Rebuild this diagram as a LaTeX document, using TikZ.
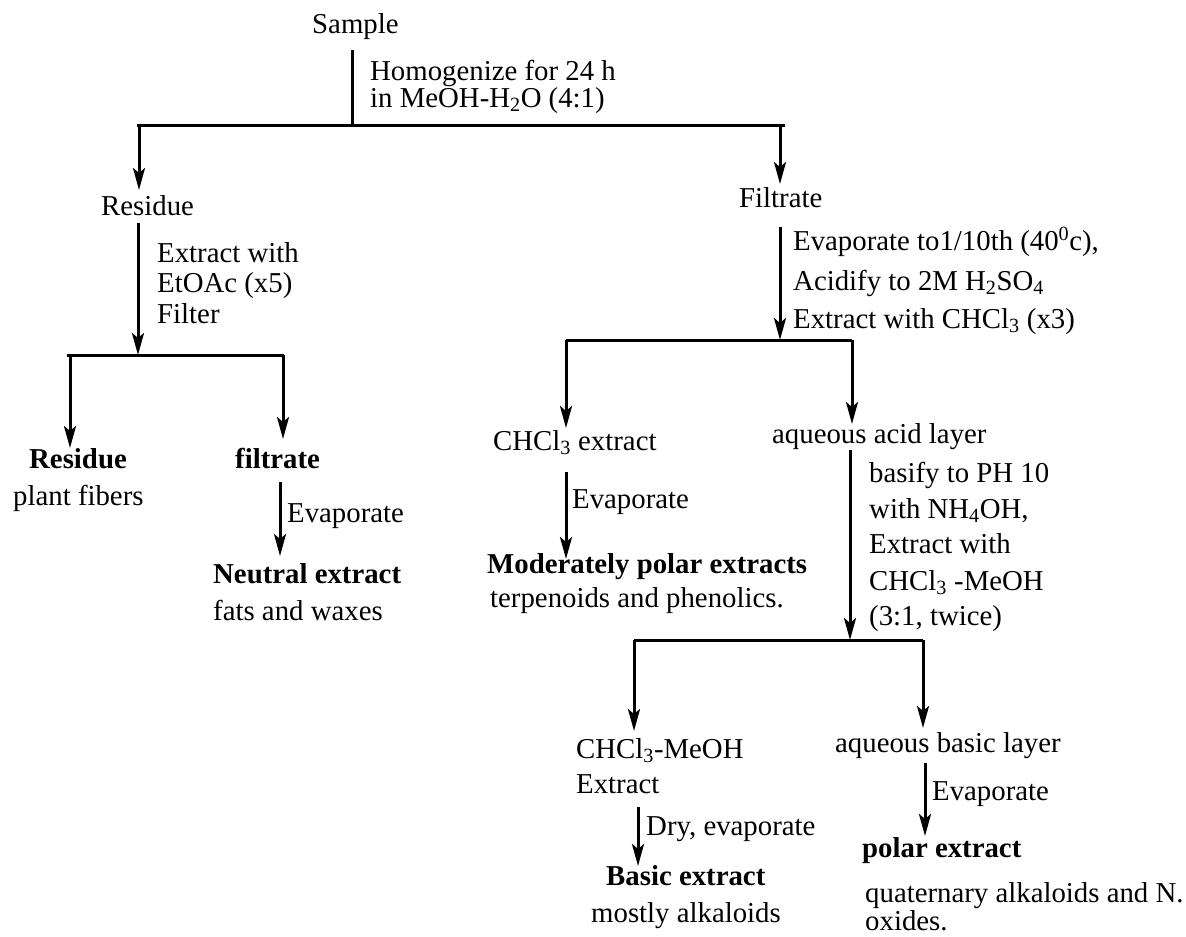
\documentclass[tikz,border=0pt]{standalone}
\usepackage{fontspec}
\setmainfont{Liberation Serif}
\usetikzlibrary{arrows.meta}
\newcommand\diafont{\fontsize{28.8}{30}\selectfont}
\tikzset{
  lbl/.style={anchor=base west, inner sep=0pt, font=\diafont},
  blbl/.style={lbl, font=\diafont\bfseries},
  ln/.style={line width=3pt, line cap=butt},
  arr/.style={ln, -{Stealth[length=22pt, width=12pt, inset=5pt]}}
}
\begin{document}
\begin{tikzpicture}[x=1pt, y=-1pt]
\useasboundingbox (0,0) rectangle (1186,937);

% ---------- texts ----------
\node[lbl] (sample) at (312,33) {Sample};
\node[lbl] (hom1) at (370,80) {Homogenize for 24 h};
\node[lbl] (hom2) at (370,107) {in MeOH-H\textsubscript{2}O (4:1)};

\node[lbl] (residue) at (101,215) {Residue};
\node[lbl] (ext1) at (157,262) {Extract with};
\node[lbl] (ext2) at (157,292) {EtOAc (x5)};
\node[lbl] (ext3) at (157,323) {Filter};

\node[blbl] (resB) at (29,468) {Residue};
\node[lbl] (fibers) at (13,505) {plant fibers};
\node[blbl] (filtB) at (235,468) {filtrate};
\node[lbl] (evap1) at (287,522) {Evaporate};
\node[blbl] (neutral) at (213,583) {Neutral extract};
\node[lbl] (fats) at (213,620) {fats and waxes};

\node[lbl] (filtrate) at (739,207) {Filtrate};
\node[lbl] (ev1) at (793,250) {Evaporate to1/10th (40\textsuperscript{0}c),};
\node[lbl] (ev2) at (793,290) {Acidify to 2M H\textsubscript{2}SO\textsubscript{4}};
\node[lbl] (ev3) at (793,328) {Extract with CHCl\textsubscript{3} (x3)};

\node[lbl] (chcl) at (493,450) {CHCl\textsubscript{3} extract};
\node[lbl] (evap2) at (572,508) {Evaporate};
\node[blbl] (modpol) at (487,573) {Moderately polar extracts};
\node[lbl] (terp) at (490,607) {terpenoids and phenolics.};

\node[lbl] (aqacid) at (772,443) {aqueous acid layer};
\node[lbl] (bas1) at (869,482) {basify to PH 10};
\node[lbl] (bas2) at (869,518) {with NH\textsubscript{4}OH,};
\node[lbl] (bas3) at (869,553) {Extract with};
\node[lbl] (bas4) at (869,590) {CHCl\textsubscript{3} -MeOH};
\node[lbl] (bas5) at (869,625) {(3:1, twice)};

\node[lbl] (chme1) at (576,758) {CHCl\textsubscript{3}-MeOH};
\node[lbl] (chme2) at (576,793) {Extract};
\node[lbl] (dry) at (646,835) {Dry, evaporate};
\node[blbl] (basic) at (606,885) {Basic extract};
\node[lbl] (mostly) at (591,922) {mostly alkaloids};

\node[lbl] (aqbas) at (835,752) {aqueous basic layer};
\node[lbl] (evap3) at (932,800) {Evaporate};
\node[blbl] (polar) at (862,857) {polar extract};
\node[lbl] (quat) at (865,902) {quaternary alkaloids and N.};
\node[lbl] (oxides) at (865,930) {oxides.};

% ---------- junction coordinates ----------
\coordinate (s0) at (352,50);
\coordinate (j0) at (352,125);
\coordinate (h0a) at (137,125);
\coordinate (h0b) at (785,125);
\coordinate (a0l) at (139,125);
\coordinate (t0l) at (139,190);
\coordinate (a0r) at (780,125);
\coordinate (t0r) at (780,184);

\coordinate (s1) at (138,223);
\coordinate (j1) at (138,355);
\coordinate (h1a) at (67,355);
\coordinate (h1b) at (284,355);
\coordinate (a1l) at (70,355);
\coordinate (t1l) at (70,448);
\coordinate (a1r) at (283,355);
\coordinate (t1r) at (283,439);
\coordinate (s1b) at (280,482);
\coordinate (t1b) at (280,556);

\coordinate (s2) at (780,227);
\coordinate (j2) at (780,340);
\coordinate (h2a) at (566,340);
\coordinate (h2b) at (852,340);
\coordinate (t2l) at (566,428);
\coordinate (t2r) at (852,424);
\coordinate (s2b) at (566,472);
\coordinate (t2b) at (566,559);

\coordinate (s3) at (850,450);
\coordinate (j3) at (850,640);
\coordinate (h3a) at (634,640);
\coordinate (h3b) at (923,640);
\coordinate (t3l) at (634,731);
\coordinate (t3r) at (923,728);
\coordinate (s3b) at (638,807);
\coordinate (t3b) at (638,866);
\coordinate (s3c) at (925,763);
\coordinate (t3c) at (925,836);

% ---------- connectors ----------
\draw[ln] (s0) -- (j0);
\draw[ln] (h0a) -- (h0b);
\draw[arr] (a0l) -- (t0l);
\draw[arr] (a0r) -- (t0r);

\draw[arr] (s1) -- (j1);
\draw[ln] (h1a) -- (h1b);
\draw[arr] (a1l) -- (t1l);
\draw[arr] (a1r) -- (t1r);
\draw[arr] (s1b) -- (t1b);

\draw[arr] (s2) -- (j2);
\draw[ln] (h2a) -- (h2b);
\draw[arr] (h2a) -- (t2l);
\draw[arr] (h2b) -- (t2r);
\draw[arr] (s2b) -- (t2b);

\draw[arr] (s3) -- (j3);
\draw[ln] (h3a) -- (h3b);
\draw[arr] (h3a) -- (t3l);
\draw[arr] (h3b) -- (t3r);
\draw[arr] (s3b) -- (t3b);
\draw[arr] (s3c) -- (t3c);
\end{tikzpicture}
\end{document}
